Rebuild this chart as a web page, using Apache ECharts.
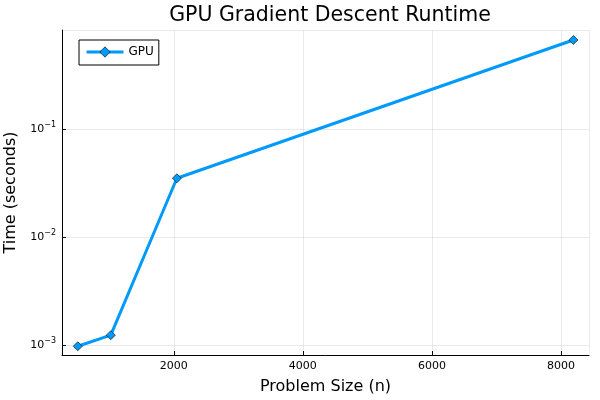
<!DOCTYPE html>
<html>
<head>
<meta charset="utf-8">
<script src="https://cdn.jsdelivr.net/npm/echarts@6/dist/echarts.min.js"></script>
<style>html,body{margin:0;padding:0;background:#fff}#c{width:600px;height:400px}</style>
</head>
<body>
<div id="c"></div>
<script>
const problemSizes = [512, 1024, 2048, 8192];
const gpuTimes = [0.00098, 0.00124, 0.0352, 0.671];
const seriesName = 'GPU';
const titleText = 'GPU Gradient Descent Runtime';
const xName = 'Problem Size (n)';
const yName = 'Time (seconds)';

const FONT = 'DejaVu Sans';
const chart = echarts.init(document.getElementById('c'), null, {renderer: 'canvas'});
chart.setOption({
  animation: false,
  backgroundColor: '#fff',
  textStyle: {fontFamily: FONT},
  title: {
    text: titleText,
    left: 325, top: 0, textAlign: 'center',
    textStyle: {fontFamily: FONT, fontSize: 20.5, fontWeight: 'normal', color: '#000'}
  },
  grid: {left: 62, right: 11, top: 30, bottom: 45, containLabel: false, outerBoundsMode: 'none'},
  legend: {
    left: 79, top: 40, padding: [6, 5, 7, 6],
    borderColor: '#000', borderWidth: 1,
    itemWidth: 37, itemHeight: 13, itemGap: 4,
    textStyle: {fontFamily: FONT, fontSize: 12, color: '#000'},
    itemStyle: {color: '#009AFA', borderColor: '#000', borderWidth: 0.6},
    lineStyle: {color: '#009AFA', width: 3},
    data: [seriesName]
  },
  xAxis: {
    type: 'value', min: 268, max: 8434, splitNumber: 4,
    name: xName, nameLocation: 'middle', nameGap: 24,
    nameTextStyle: {fontFamily: FONT, fontSize: 16, color: '#000'},
    axisLine: {show: true, lineStyle: {color: '#000', width: 1}},
    axisTick: {show: true, inside: true, length: 4, lineStyle: {color: '#000'}},
    axisLabel: {
      fontFamily: FONT, fontSize: 11, color: '#000', margin: 6,
      showMinLabel: false, showMaxLabel: false,
      formatter: function (v) { return String(Math.round(v)); }
    },
    splitLine: {show: true, lineStyle: {color: 'rgba(0,0,0,0.08)', width: 1}}
  },
  yAxis: {
    type: 'log', logBase: 10, min: 0.000813, max: 0.8306,
    name: yName, nameLocation: 'middle', nameGap: 42,
    nameTextStyle: {fontFamily: FONT, fontSize: 16, color: '#000'},
    axisLine: {show: true, lineStyle: {color: '#000', width: 1}},
    axisTick: {show: true, inside: true, length: 4, lineStyle: {color: '#000'}},
    axisLabel: {
      fontFamily: FONT, fontSize: 11, color: '#000', margin: 6,
      showMinLabel: false, showMaxLabel: false,
      formatter: function (v) {
        const e = Math.round(Math.log10(v));
        if (Math.abs(Math.log10(v) - e) > 1e-6) return '';
        return '10{s|' + String(e).replace('-', '−') + '}';
      },
      rich: {s: {fontSize: 8, verticalAlign: 'top', padding: [0, 0, 8, 0], fontFamily: FONT}}
    },
    splitLine: {show: true, lineStyle: {color: 'rgba(0,0,0,0.08)', width: 1}}
  },
  series: [{
    name: seriesName, type: 'line',
    data: problemSizes.map((x, i) => [x, gpuTimes[i]]),
    lineStyle: {color: '#009AFA', width: 3},
    itemStyle: {color: '#009AFA', borderColor: '#000', borderWidth: 0.6},
    symbol: 'diamond', symbolSize: 9, showSymbol: true
  }]
});
</script>
</body>
</html>
